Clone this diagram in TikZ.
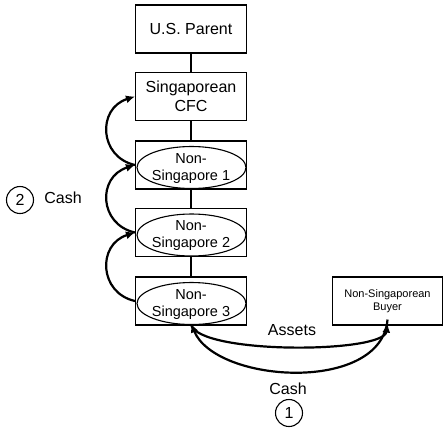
\documentclass[tikz,border=0pt]{standalone}
\usepackage{fontspec}
\setmainfont{Liberation Sans}
\usetikzlibrary{shapes.geometric,arrows.meta}
\begin{document}
\begin{tikzpicture}[x=1pt,y=-1pt,
  box/.style={draw,line width=1.1pt,minimum width=111pt,minimum height=48pt,inner sep=0pt,align=center,font=\fontsize{16}{19}\selectfont},
  ell/.style={draw,ellipse,line width=1.1pt,minimum width=109pt,minimum height=42pt,inner sep=0pt},
  etext/.style={align=center,inner sep=0pt,font=\fontsize{14.5}{17}\selectfont},
  link/.style={line width=1.8pt},
  flow/.style={line width=2.2pt,-{Latex[length=9pt,width=8pt]}},
  lbl/.style={font=\fontsize{16}{19}\selectfont},
  num/.style={draw,circle,line width=1.1pt,minimum size=27pt,inner sep=0pt,font=\fontsize{16}{19}\selectfont}]
\useasboundingbox (0,0) rectangle (444,429);
\node[box] (us) at (191,29) {U.S. Parent};
\node[box] (cfc) at (191,96.5) {Singaporean\\CFC};
\node[box] (n1box) at (191,165) {};
\node[ell] (n1) at (191.5,167.5) {};
\node[etext] (n1t) at (191,168.5) {Non-\\Singapore 1};
\node[box] (n2box) at (191,232.5) {};
\node[ell] (n2) at (191.5,235) {};
\node[etext] (n2t) at (191,236) {Non-\\Singapore 2};
\node[box] (n3box) at (191,301) {};
\node[ell] (n3) at (191.5,303.5) {};
\node[etext] (n3t) at (191,304.5) {Non-\\Singapore 3};
\node[box,minimum width=110pt,font=\fontsize{11}{13}\selectfont] (buyer) at (387.5,301) {Non-Singaporean\\Buyer};
\draw[link] (us.south) -- (cfc.north);
\draw[link] (cfc.south) -- (n1box.north);
\draw[link] (n1box.south) -- (n2box.north);
\draw[link] (n2box.south) -- (n3box.north);
\draw[flow] (n1box.west) .. controls +(-36,-8) and +(-38,12) .. (cfc.west);
\draw[flow] (n2box.west) .. controls +(-36,-8) and +(-38,12) .. (n1box.west);
\draw[flow] (n3box.west) .. controls +(-36,-8) and +(-38,12) .. (n2box.west);
\draw[flow] ([yshift=1pt]n3box.south) .. controls +(8,30) and +(-4,30) .. ([yshift=2pt]buyer.south);
\draw[flow] ([yshift=6pt]buyer.south) .. controls +(-6,74) and +(25,60) .. ([yshift=2pt]n3box.south);
\node[lbl] (assets) at (292,330) {Assets};
\node[lbl] (cash1) at (288,389) {Cash};
\node[num] (c1) at (289,413) {1};
\node[num] (c2) at (20,200) {2};
\node[lbl] (cash2) at (63,198) {Cash};
\end{tikzpicture}
\end{document}
